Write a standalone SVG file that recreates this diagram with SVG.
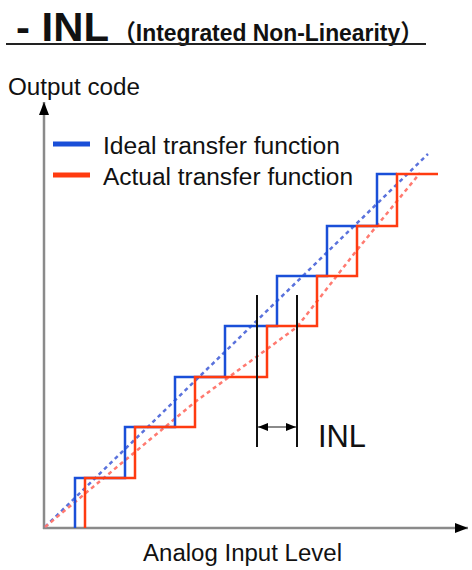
<svg xmlns="http://www.w3.org/2000/svg" width="472" height="570" viewBox="0 0 472 570">
<defs>
<marker id="axhead" markerUnits="userSpaceOnUse" markerWidth="14" markerHeight="10" viewBox="0 0 14 10" refX="13" refY="5" orient="auto">
<path d="M0,0 L13,5 L0,10 Z" fill="#000"/>
</marker>
<marker id="inlhead" markerUnits="userSpaceOnUse" markerWidth="10" markerHeight="8" viewBox="0 0 10 8" refX="10" refY="4" orient="auto-start-reverse">
<path d="M0,0 L10,4 L0,8 Z" fill="#000"/>
</marker>
</defs>
<style>
.t{font-family:"Liberation Sans",Arial,"Noto Sans CJK JP",sans-serif;fill:#111;}
.axis{stroke:#8a8a8a;stroke-width:2.5;fill:none;}
.ideal{stroke:#1a4fd8;stroke-width:2.5;fill:none;}
.actual{stroke:#ff3b10;stroke-width:2.5;fill:none;}
.dIdeal{stroke:#5a72dc;stroke-width:2.5;stroke-dasharray:4 3.5;fill:none;}
.dActual{stroke:#ff7a70;stroke-width:2.5;stroke-dasharray:4 3.5;fill:none;}
.mark{stroke:#111;stroke-width:2;fill:none;}
</style>
<g id="title">
<text class="t" x="16" y="41" font-size="41" font-weight="bold" textLength="93" lengthAdjust="spacingAndGlyphs">- INL</text>
<text class="t" x="113" y="41" font-size="24" font-weight="bold" textLength="310" lengthAdjust="spacingAndGlyphs">（Integrated Non-Linearity）</text>
<line x1="6" y1="44" x2="426" y2="44" stroke="#222" stroke-width="2"/>
</g>
<g id="labels">
<text class="t" x="8" y="95" font-size="23" textLength="132" lengthAdjust="spacingAndGlyphs">Output code</text>
<text class="t" x="143" y="561" font-size="23" textLength="199" lengthAdjust="spacingAndGlyphs">Analog Input Level</text>
</g>
<g id="legend">
<line x1="53" y1="144" x2="90" y2="144" stroke="#1a4fd8" stroke-width="5"/>
<text class="t" x="103" y="154" font-size="23" textLength="237" lengthAdjust="spacingAndGlyphs">Ideal transfer function</text>
<line x1="53" y1="175" x2="90" y2="175" stroke="#ff3b10" stroke-width="5"/>
<text class="t" x="103" y="185" font-size="23" textLength="250" lengthAdjust="spacingAndGlyphs">Actual transfer function</text>
</g>
<g id="axes">
<line class="axis" x1="44" y1="529" x2="44" y2="102" marker-end="url(#axhead)"/>
<line class="axis" x1="43" y1="528" x2="468" y2="528" marker-end="url(#axhead)"/>
</g>
<g id="ideal-line">
<line class="dIdeal" x1="45" y1="527" x2="428" y2="154"/>
</g>
<g id="actual-line">
<polyline class="dActual" points="45,527 195,402 297,327 357,250 420,173"/>
</g>
<g id="ideal-staircase">
<polyline class="ideal" points="75,528 75,478 125,478 125,427 175,427 175,377 225,377 225,326 277,326 277,276 327,276 327,226 377,226 377,174 397,174"/>
</g>
<g id="actual-staircase">
<polyline class="actual" points="85,528 85,478 135,478 135,427 195,427 195,377 267,377 267,326 317,326 317,276 357,276 357,226 397,226 397,174 438,174"/>
</g>
<g id="inl-marker">
<line class="mark" x1="257" y1="295" x2="257" y2="447"/>
<line class="mark" x1="297" y1="295" x2="297" y2="447"/>
<line x1="258" y1="427" x2="296" y2="427" stroke="#8a8a8a" stroke-width="2" marker-start="url(#inlhead)" marker-end="url(#inlhead)"/>
<text class="t" x="318" y="447" font-size="32" textLength="48" lengthAdjust="spacingAndGlyphs">INL</text>
</g>
</svg>
